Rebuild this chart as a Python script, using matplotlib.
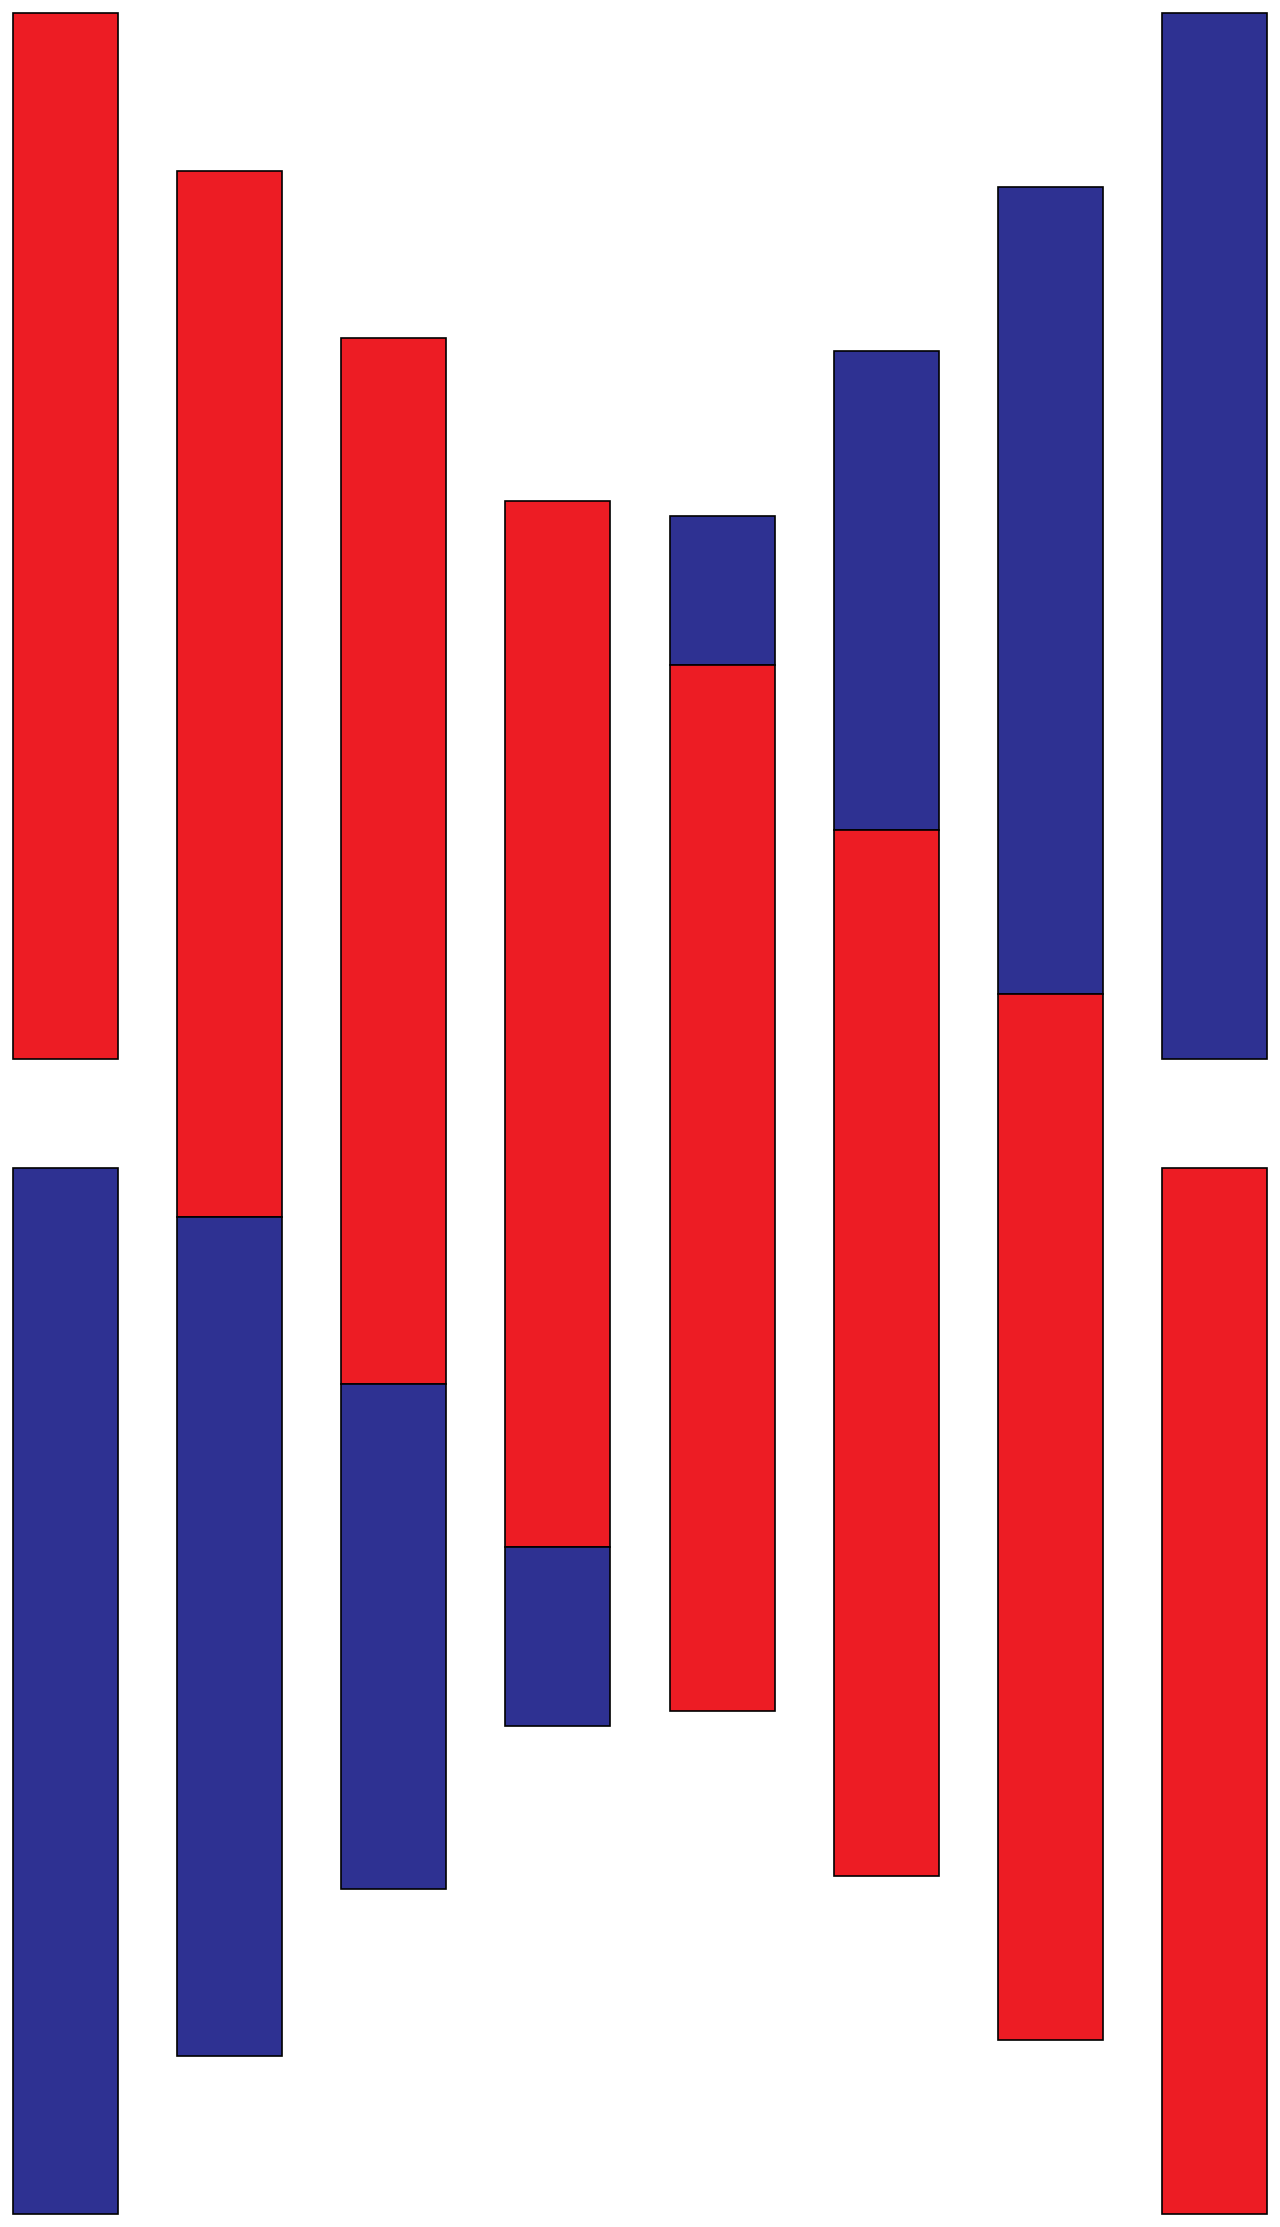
import matplotlib
matplotlib.use("Agg")
import matplotlib.pyplot as plt
import numpy as np

# Data (units: red segment = 100)
categories = ["1", "2", "3", "4", "5", "6", "7", "8"]
red_values = [100, 100, 100, 100, 100, 100, 100, 100]
blue_values = [100.0, 80.2, 48.2, 17.2, 14.3, 45.8, 77.2, 100.0]
gap_values = [10.4, 0, 0, 0, 0, 0, 0, 10.4]
red_on_top = [True, True, True, True, False, False, False, False]

RED = "#ED1C24"
BLUE = "#2E3192"

fig = plt.figure(figsize=(12.8, 22.27), dpi=100)
ax = fig.add_axes([0, 0, 1, 1])
ax.set_axis_off()

x = np.arange(len(categories))
red = np.array(red_values, dtype=float)
blue = np.array(blue_values, dtype=float)
gap = np.array(gap_values, dtype=float)
top_is_red = np.array(red_on_top)

total = red + blue + gap
upper_len = np.where(top_is_red, red, blue)
lower_len = np.where(top_is_red, blue, red)
upper_color = [RED if t else BLUE for t in top_is_red]
lower_color = [BLUE if t else RED for t in top_is_red]

top = total / 2
bottom = -total / 2

width = 0.64
ax.bar(x, upper_len, bottom=top - upper_len, width=width, color=upper_color,
       edgecolor="black", linewidth=1.2)
ax.bar(x, lower_len, bottom=bottom, width=width, color=lower_color,
       edgecolor="black", linewidth=1.2)

ax.set_xlim(-0.4, len(categories) - 1 + 0.4)
ax.set_ylim(-106.45, 106.45)

fig.savefig("out.png", dpi=100, facecolor="white")
